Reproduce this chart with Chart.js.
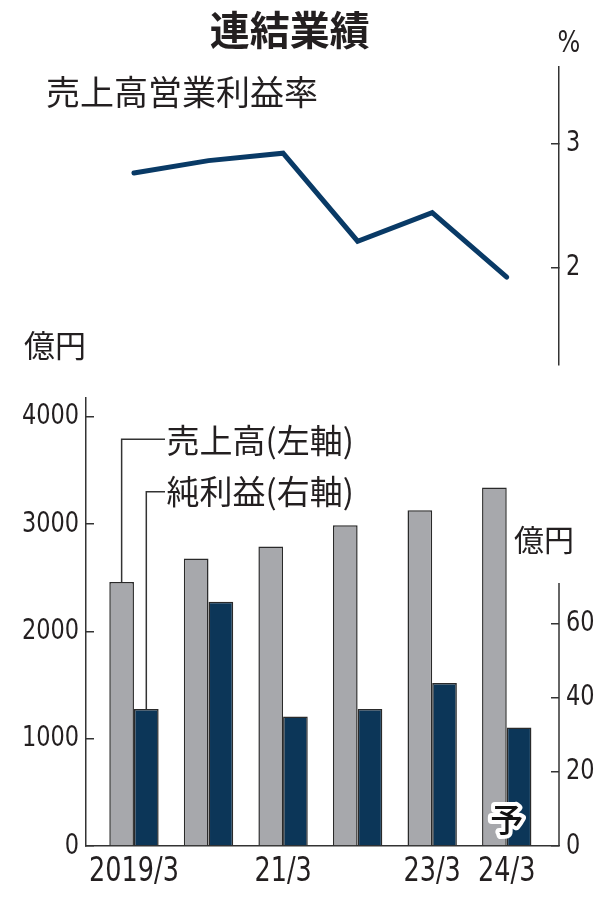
<!DOCTYPE html>
<html><head><meta charset="utf-8">
<script src="https://cdn.jsdelivr.net/npm/chart.js@4.4.1/dist/chart.umd.min.js"></script>
<style>
html,body{margin:0;padding:0;background:#fff;}
#wrap{position:relative;width:612px;height:904px;overflow:hidden;}
canvas{position:absolute;left:0;top:0;}
</style></head><body>
<div id="wrap"><canvas id="top" width="612" height="904"></canvas><canvas id="bot" width="612" height="904"></canvas></div>
<script>
// ---- data ----
const categories = ["2019/3", "20/3", "21/3", "22/3", "23/3", "24/3"];
const xTickLabels = ["2019/3", "", "21/3", "", "23/3", "24/3"];
const sales = [2460, 2680, 2790, 2990, 3130, 3340];          // 売上高 (左軸, 億円)
const netIncome = [37, 66, 35, 37, 44, 32];                  // 純利益 (右軸, 億円)
const operatingMargin = [2.76, 2.86, 2.92, 2.21, 2.44, 1.92]; // 売上高営業利益率 (%)
const leftTicks = [0, 1000, 2000, 3000, 4000];
const rightTicks = [0, 20, 40, 60];
const marginTicks = [2, 3];
const forecastIndex = 5;

// ---- style ----
const NUM_FONT = '"DejaVu Sans Condensed", "DejaVu Sans", sans-serif';
const JP_FONT = '"Noto Sans CJK JP", "Noto Sans CJK SC", sans-serif';
const TEXT = '#231f20';
const AXIS = '#333333';
const GRAY = '#a7a8ac';
const NAVY = '#0c3658';
const LINE = '#093a66';
const EDGE = '#2a2a2a';
const X_MIN = -0.6434, X_MAX = 5.701;
const LEFT_MAX = 4175, RIGHT_MAX = 121, RIGHT_AXIS_TOP = 71;
const M_MIN = 1.212, M_MAX = 3.615;
const SQUEEZE = 0.86;

const tickFont = {family: NUM_FONT, size: 29};

// narrow the numeric font horizontally (the reference uses a condensed face)
function squeeze(canvas) {
  const ctx = canvas.getContext('2d');
  const orig = ctx.fillText;
  ctx.fillText = function (t, x, y, mw) {
    if (String(this.font).indexOf('DejaVu Sans Condensed') >= 0) {
      this.save();
      this.translate(x, y);
      this.scale(SQUEEZE, 1);
      orig.call(this, t, 0, 0);
      this.restore();
    } else if (mw === undefined) {
      orig.call(this, t, x, y);
    } else {
      orig.call(this, t, x, y, mw);
    }
  };
}
squeeze(document.getElementById('top'));
squeeze(document.getElementById('bot'));

// ---- top chart: operating margin ----
new Chart(document.getElementById('top'), {
  type: 'line',
  data: {datasets: [{
    data: operatingMargin.map((v, i) => ({x: i, y: v})),
    borderColor: LINE, borderWidth: 5, pointRadius: 0,
    borderCapStyle: 'round', borderJoinStyle: 'miter', tension: 0, fill: false
  }]},
  options: {
    responsive: false, animation: false, events: [],
    layout: {padding: {left: 86, right: 0, top: 67, bottom: 904 - 365}},
    plugins: {legend: {display: false}, tooltip: {enabled: false}},
    scales: {
      x: {type: 'linear', display: false, min: X_MIN, max: X_MAX},
      y: {
        position: 'right', min: M_MIN, max: M_MAX,
        afterFit: s => { s.width = 53; },
        afterBuildTicks: s => { s.ticks = marginTicks.map(v => ({value: v})); },
        border: {display: true, color: AXIS, width: 1.5},
        grid: {drawOnChartArea: false, drawTicks: true, tickLength: -8, color: AXIS, lineWidth: 1.5},
        ticks: {padding: 15, color: TEXT, font: tickFont, callback: v => String(v)}
      }
    }
  }
});

// ---- annotations plugin ----
const annot = {
  id: 'annot',
  afterDraw(chart) {
    const ctx = chart.ctx;
    ctx.save();
    const text = (s, x, y, font, align) => {
      ctx.font = font; ctx.fillStyle = TEXT; ctx.textAlign = align || 'left'; ctx.textBaseline = 'middle';
      ctx.fillText(s, x, y);
    };
    text('連結業績', 289.7, 30, 'bold 40px ' + JP_FONT, 'center');
    text('売上高営業利益率', 46, 92, '34px ' + JP_FONT);
    text('%', 569, 44, '31px ' + NUM_FONT, 'center');
    text('億円', 24, 345, '31px ' + JP_FONT);
    text('億円', 514, 540, '30px ' + JP_FONT);
    text('売上高(左軸)', 166.5, 440.5, '33px ' + JP_FONT);
    text('純利益(右軸)', 166.5, 491.5, '33px ' + JP_FONT);

    // leader lines from first bars to legend labels
    const b0 = chart.getDatasetMeta(0).data[0];
    const b1 = chart.getDatasetMeta(1).data[0];
    ctx.strokeStyle = AXIS; ctx.lineWidth = 1.5;
    ctx.beginPath();
    ctx.moveTo(b0.x, b0.y); ctx.lineTo(b0.x, 439.3); ctx.lineTo(165, 439.3);
    ctx.moveTo(b1.x, b1.y); ctx.lineTo(b1.x, 491.7); ctx.lineTo(165, 491.7);
    ctx.stroke();

    // right axis line (only up to its range)
    const yR = chart.scales.yR;
    ctx.beginPath();
    ctx.moveTo(yR.left, yR.getPixelForValue(0));
    ctx.lineTo(yR.left, yR.getPixelForValue(RIGHT_AXIS_TOP));
    ctx.stroke();

    // forecast mark
    const fb = chart.getDatasetMeta(0).data[forecastIndex];
    const fx = fb.x + fb.width / 2, fy = 819;
    ctx.font = '500 33px ' + JP_FONT; ctx.textAlign = 'center'; ctx.textBaseline = 'middle';
    ctx.lineJoin = 'round'; ctx.strokeStyle = '#ffffff'; ctx.lineWidth = 8;
    ctx.strokeText('予', fx, fy);
    ctx.fillStyle = '#111111';
    ctx.fillText('予', fx, fy);
    ctx.restore();
  }
};

// ---- bottom chart: sales & net income ----
new Chart(document.getElementById('bot'), {
  type: 'bar',
  data: {datasets: [
    {label: '売上高', data: sales.map((v, i) => ({x: i, y: v})), yAxisID: 'yL',
     backgroundColor: GRAY, borderColor: EDGE, borderWidth: 1.5,
     categoryPercentage: 0.662, barPercentage: 1},
    {label: '純利益', data: netIncome.map((v, i) => ({x: i, y: v})), yAxisID: 'yR',
     backgroundColor: NAVY, borderColor: EDGE, borderWidth: 1.5,
     categoryPercentage: 0.662, barPercentage: 1}
  ]},
  options: {
    responsive: false, animation: false, events: [],
    layout: {padding: {left: 0, right: 0, top: 398, bottom: 0}},
    plugins: {legend: {display: false}, tooltip: {enabled: false}},
    scales: {
      x: {
        type: 'linear', min: X_MIN, max: X_MAX, offset: false,
        afterFit: s => { s.height = 58; },
        afterBuildTicks: s => { s.ticks = categories.map((c, i) => ({value: i})); },
        grid: {display: false, drawTicks: false, offset: false},
        border: {display: true, color: AXIS, width: 1.5},
        ticks: {autoSkip: false, maxRotation: 0, padding: 7, color: TEXT,
                font: {family: NUM_FONT, size: 33}, callback: v => xTickLabels[v]}
      },
      yL: {
        position: 'left', min: 0, max: LEFT_MAX,
        afterFit: s => { s.width = 86; },
        afterBuildTicks: s => { s.ticks = leftTicks.map(v => ({value: v})); },
        border: {display: true, color: AXIS, width: 1.5},
        grid: {drawOnChartArea: false, drawTicks: true, tickLength: -8, color: AXIS, lineWidth: 1.5},
        ticks: {padding: 15, color: TEXT, font: tickFont, callback: v => String(v)}
      },
      yR: {
        position: 'right', min: 0, max: RIGHT_MAX,
        afterFit: s => { s.width = 53; },
        afterBuildTicks: s => { s.ticks = rightTicks.map(v => ({value: v})); },
        border: {display: false},
        grid: {drawOnChartArea: false, drawTicks: true, tickLength: -8, color: AXIS, lineWidth: 1.5},
        ticks: {padding: 15, color: TEXT, font: tickFont, callback: v => String(v)}
      }
    }
  },
  plugins: [annot]
});
</script>
</body></html>
